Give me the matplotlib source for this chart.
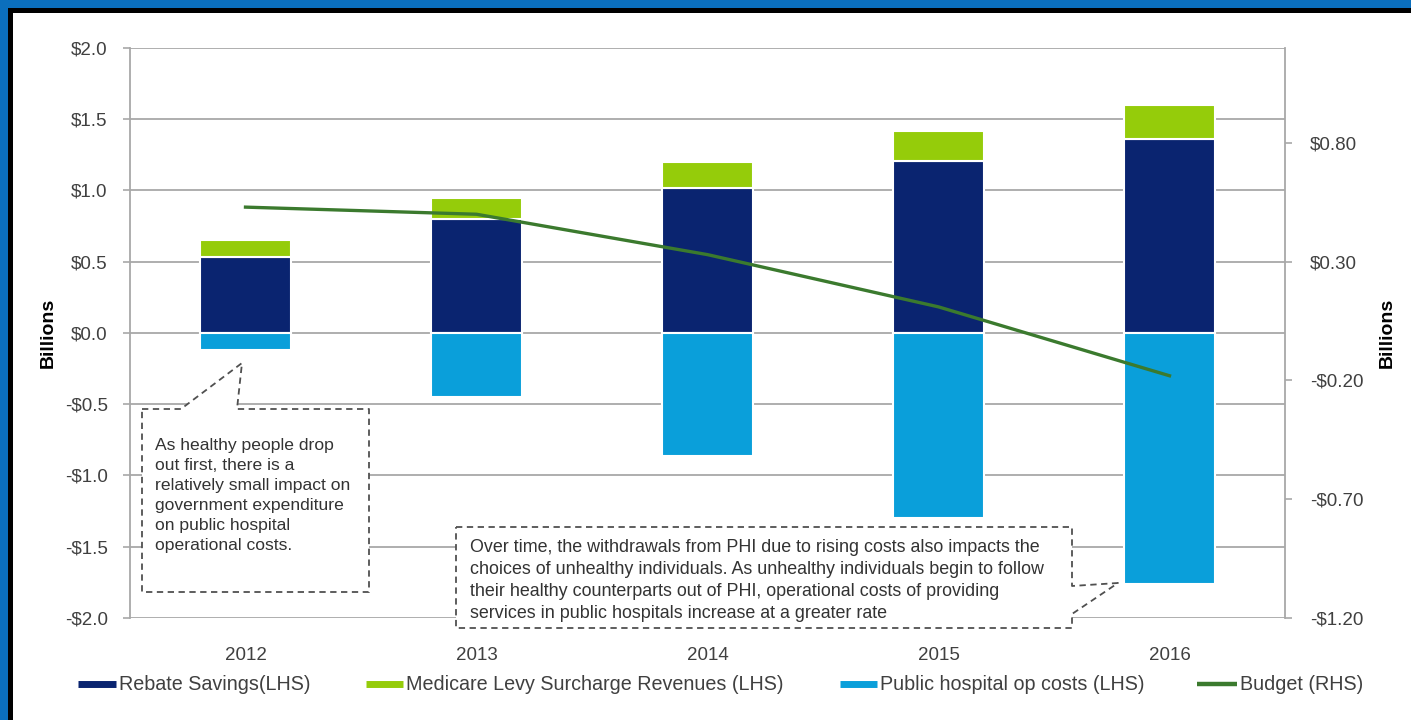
import matplotlib
matplotlib.use("Agg")
import matplotlib.pyplot as plt
import matplotlib.transforms as mtransforms
from matplotlib.patches import Rectangle, Polygon
from matplotlib.lines import Line2D

# ---------------- data ----------------
years = ["2012", "2013", "2014", "2015", "2016"]
rebate_savings = [0.53, 0.80, 1.02, 1.21, 1.36]
medicare_levy = [0.12, 0.15, 0.18, 0.21, 0.24]
hospital_costs = [-0.12, -0.45, -0.86, -1.30, -1.76]
budget = [0.53, 0.50, 0.33, 0.11, -0.18]

left_ticks = [-2.0, -1.5, -1.0, -0.5, 0.0, 0.5, 1.0, 1.5, 2.0]
right_ticks = [-1.2, -0.7, -0.2, 0.3, 0.8]

legend_labels = ["Rebate Savings(LHS)", "Medicare Levy Surcharge Revenues (LHS)",
                 "Public hospital op costs (LHS)", "Budget (RHS)"]
note1 = ("As healthy people drop\nout first, there is a\nrelatively small impact on\n"
         "government expenditure\non public hospital\noperational costs.")
note2 = ("Over time, the withdrawals from PHI due to rising costs also impacts the\n"
         "choices of unhealthy individuals. As unhealthy individuals begin to follow\n"
         "their healthy counterparts out of PHI, operational costs of providing\n"
         "services in public hospitals increase at a greater rate")

# ---------------- style ----------------
NAVY = "#0a2470"
GREEN = "#95cc0a"
LBLUE = "#0a9fda"
LINE = "#3b7a2e"
GRID = "#a8a8a8"
TXT = "#404040"
FONT = ["Liberation Sans", "DejaVu Sans"]
plt.rcParams["font.family"] = FONT

W, H = 1411, 720
fig = plt.figure(figsize=(W / 100, H / 100), dpi=100)
fig.patch.set_facecolor("white")
# pixel transform with origin at top-left
px = mtransforms.Affine2D().scale(1 / W, -1 / H).translate(0, 1) + fig.transFigure

# frame (top and left)
fig.add_artist(Rectangle((0, 0), W, 8, transform=px, color="#0b6fbd", lw=0, zorder=0))
fig.add_artist(Rectangle((0, 0), 8, H, transform=px, color="#0b6fbd", lw=0, zorder=0))
fig.add_artist(Rectangle((8, 8), W, 5, transform=px, color="black", lw=0, zorder=0))
fig.add_artist(Rectangle((8, 8), 5, H, transform=px, color="black", lw=0, zorder=0))

L, R, T, B = 130, 1285, 48, 618
ax = fig.add_axes([L / W, 1 - B / H, (R - L) / W, (B - T) / H])
ax.set_facecolor("none")
x = list(range(len(years)))
bw = 0.39
ax.bar(x, rebate_savings, width=bw, color=NAVY, edgecolor="white", linewidth=1.5, zorder=2)
ax.bar(x, medicare_levy, width=bw, bottom=rebate_savings, color=GREEN,
       edgecolor="white", linewidth=1.5, zorder=2)
ax.bar(x, hospital_costs, width=bw, color=LBLUE, edgecolor="white", linewidth=1.5, zorder=2)

ax.set_xlim(-0.5, len(years) - 0.5)
ax.set_ylim(-2.0, 2.0)
ax.set_yticks(left_ticks)
ax.set_yticklabels([("-$%.1f" % abs(v)) if v < 0 else ("$%.1f" % v) for v in left_ticks])
ax.set_xticks(x)
ax.set_xticklabels(years)
ax.yaxis.grid(True, color=GRID, linewidth=1.3, zorder=0)
ax.set_axisbelow(True)
for s in ["top", "right", "bottom"]:
    ax.spines[s].set_visible(False)
ax.spines["left"].set_color(GRID)
ax.spines["left"].set_linewidth(1.3)
ax.tick_params(axis="y", colors=GRID, labelcolor=TXT, labelsize=13.5, length=5, width=1.2, pad=11)
ax.tick_params(axis="x", length=0, labelcolor=TXT, labelsize=13.5, pad=21)
ax.set_ylabel("Billions", fontsize=14, fontweight="bold", color="black")
ax.yaxis.set_label_coords((57 - L) / (R - L), 0.5)

ax2 = ax.twinx()
ax2.plot(x, budget, color=LINE, linewidth=2.4, zorder=3)
ax2.set_ylim(-1.2, 1.2)
ax2.set_yticks(right_ticks)
ax2.set_yticklabels([("-$%.2f" % abs(v)) if v < 0 else ("$%.2f" % v) for v in right_ticks])
for s in ["top", "left", "bottom"]:
    ax2.spines[s].set_visible(False)
ax2.spines["right"].set_color(GRID)
ax2.spines["right"].set_linewidth(1.3)
ax2.tick_params(axis="y", colors=GRID, labelcolor=TXT, labelsize=13.5, length=5, width=1.2, pad=13)
ax2.set_ylabel("Billions", fontsize=14, fontweight="bold", color="black")
ax2.yaxis.set_label_coords((1379 - L) / (R - L), 0.5)

# ---------------- callouts ----------------
dash = dict(color="#505050", linewidth=1.3, linestyle=(0, (3.5, 2.5)))

def callout(pts, zorder=5):
    fig.add_artist(Polygon(pts, closed=True, transform=px, facecolor="white",
                           edgecolor="none", zorder=zorder))
    xs = [p[0] for p in pts] + [pts[0][0]]
    ys = [p[1] for p in pts] + [pts[0][1]]
    fig.add_artist(Line2D(xs, ys, transform=px, zorder=zorder + 1, **dash))

callout([(142, 409), (181, 409), (242, 363), (237, 409), (369, 409),
         (369, 592), (142, 592)])
fig.text(155 / W, 1 - 438 / H, note1, ha="left", va="top", fontsize=12.6,
         color="#333333", linespacing=1.42, zorder=7)

callout([(456, 527), (1072, 527), (1072, 586), (1118, 583), (1072, 614),
         (1072, 628), (456, 628)])
fig.text(470 / W, 1 - 539 / H, note2, ha="left", va="top", fontsize=12.9,
         color="#333333", linespacing=1.38, zorder=7)

# ---------------- legend ----------------
leg_colors = [NAVY, GREEN, LBLUE, LINE]
sw_x = [(78, 116), (366, 403), (840, 877), (1197, 1237)]
ly = 684
for (x0, x1), c, lab in zip(sw_x, leg_colors, legend_labels):
    lw = 3.2 if c == LINE else 5
    fig.add_artist(Line2D([x0, x1], [ly, ly], transform=px, color=c, linewidth=lw,
                          solid_capstyle="butt"))
    fig.text((x1 + 3) / W, 1 - ly / H, lab, ha="left", va="center", fontsize=14.2, color=TXT)

fig.savefig("out.png", dpi=100, facecolor=fig.get_facecolor())
